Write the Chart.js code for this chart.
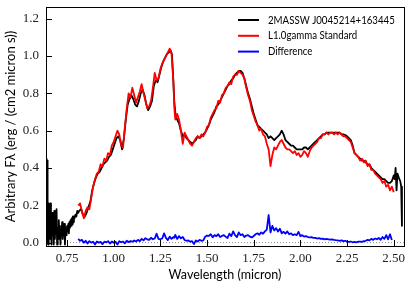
<!DOCTYPE html>
<html>
<head>
<meta charset="utf-8">
<script src="https://cdn.jsdelivr.net/npm/chart.js@4.4.1/dist/chart.umd.min.js"></script>
<style>
html,body{margin:0;padding:0;background:#fff;}
#wrap{width:411px;height:288px;}
</style>
</head>
<body>
<div id="wrap"><canvas id="c" width="411" height="288"></canvas></div>
<script>
// ---- data ----
const seriesNames = ['2MASSW J0045214+163445', 'L1.0gamma Standard', 'Difference'];

const targetWave = [0.638,0.640,0.643,0.646,0.649,0.652,0.655,0.658,0.661,0.664,0.667,0.670,0.673,0.676,0.679,0.682,0.685,0.688,0.691,0.694,0.697,0.700,0.703,0.706,0.709,0.712,0.715,0.718,0.721,0.724,0.727,0.730,0.733,0.736,0.739,0.742,0.745,0.748,0.751,0.754,0.757,0.760,0.763,0.766,0.769,0.772,0.775,0.778,0.781,0.784,0.787,0.790,0.795,0.800,0.805,0.810,
0.815,0.825,0.835,0.845,0.855,0.865,0.875,0.885,0.895,0.905,0.915,0.925,0.935,0.945,0.955,0.965,0.975,0.985,0.995,1.005,1.015,1.025,1.035,1.045,1.055,1.065,1.075,1.085,1.095,1.105,1.115,1.125,1.135,1.145,1.155,1.165,1.175,1.185,1.195,1.205,1.215,1.225,1.235,1.245,1.255,1.265,1.275,1.285,1.295,1.305,1.312,1.318,1.325,1.332,1.340,1.350,1.360,1.370,1.380,1.390,1.400,1.410,1.420,1.430,1.440,1.450,1.460,1.470,1.480,1.490,1.500,1.510,1.520,1.530,1.540,1.550,1.560,1.570,1.580,1.590,1.600,1.610,1.620,1.630,1.640,1.650,1.660,1.670,1.680,1.690,1.700,1.710,1.720,1.730,1.740,1.750,1.760,1.770,1.780,1.790,1.800,1.810,1.820,1.830,1.840,1.850,1.860,1.870,1.880,1.890,1.900,1.910,1.920,1.930,1.940,1.950,1.960,1.970,1.980,1.990,2.000,2.010,2.020,2.030,2.040,2.050,2.060,2.070,2.080,2.090,2.100,2.110,2.120,2.130,2.140,2.150,2.160,2.170,2.180,2.190,2.200,2.210,2.220,2.230,2.240,2.250,2.260,2.270,2.280,2.290,2.300,2.310,2.320,2.330,2.340,2.350,2.360,2.370,2.380,2.390,2.400,2.410,2.420,2.430,2.440,2.450,2.460,2.470,2.480,2.490,2.500,2.505,2.510,2.515,2.520,2.530,2.535,2.540,2.544];
const targetFlux = [0.00,0.45,0.44,0.05,-0.01,0.21,0.20,0.02,0.21,0.10,-0.01,0.16,0.04,0.12,-0.01,0.17,0.02,0.10,0.05,0.18,-0.01,0.08,0.02,0.12,0.04,0.09,-0.01,0.07,0.05,0.11,0.02,0.08,0.06,0.10,-0.01,0.07,0.08,0.04,0.09,0.06,0.10,0.05,0.11,0.08,0.12,0.09,0.13,0.10,0.14,0.11,0.14,0.13,0.15,0.14,0.17,0.16,
0.17,0.18,0.15,0.14,0.16,0.19,0.22,0.28,0.32,0.35,0.37,0.38,0.40,0.42,0.43,0.44,0.46,0.47,0.50,0.53,0.56,0.57,0.55,0.50,0.56,0.66,0.74,0.77,0.79,0.77,0.74,0.73,0.76,0.80,0.82,0.79,0.74,0.71,0.73,0.76,0.84,0.87,0.86,0.90,0.94,0.97,0.99,1.01,1.02,1.03,1.01,0.90,0.75,0.68,0.66,0.64,0.60,0.57,0.58,0.56,0.55,0.54,0.53,0.54,0.55,0.57,0.56,0.57,0.58,0.59,0.61,0.63,0.66,0.68,0.70,0.73,0.74,0.76,0.78,0.80,0.82,0.84,0.85,0.87,0.88,0.90,0.91,0.92,0.92,0.91,0.88,0.84,0.80,0.77,0.73,0.69,0.66,0.63,0.62,0.61,0.60,0.59,0.58,0.56,0.57,0.56,0.55,0.56,0.57,0.58,0.60,0.58,0.55,0.54,0.53,0.52,0.52,0.51,0.50,0.50,0.50,0.50,0.51,0.51,0.50,0.51,0.52,0.53,0.54,0.55,0.56,0.57,0.58,0.58,0.59,0.59,0.59,0.59,0.59,0.59,0.59,0.59,0.58,0.58,0.577,0.57,0.56,0.55,0.52,0.48,0.47,0.46,0.45,0.44,0.44,0.43,0.42,0.42,0.40,0.39,0.38,0.37,0.36,0.35,0.34,0.34,0.33,0.32,0.32,0.33,0.36,0.34,0.40,0.28,0.37,0.34,0.33,0.30,0.09];

const standardWave = [0.81,0.82,0.83,0.84,0.85,0.86,0.87,0.88,0.89,0.90,0.91,0.92,0.93,0.94,0.95,0.96,0.97,0.98,0.99,1.00,1.01,1.02,1.03,1.04,1.05,1.06,1.07,1.08,1.09,1.10,1.11,1.12,1.13,1.14,1.15,1.16,1.17,1.18,1.19,1.20,1.21,1.22,1.23,1.24,1.25,1.26,1.27,1.28,1.29,1.30,1.31,1.32,1.325,1.33,1.34,1.35,1.36,1.37,1.38,1.39,1.40,1.41,1.42,1.43,1.44,1.45,1.46,1.47,1.48,1.49,1.50,1.51,1.52,1.53,1.54,1.55,1.56,1.57,1.58,1.59,1.60,1.61,1.62,1.63,1.64,1.65,1.66,1.67,1.68,1.69,1.70,1.71,1.72,1.73,1.74,1.75,1.76,1.77,1.78,1.79,1.80,1.81,1.82,1.83,1.84,1.85,1.86,1.87,1.88,1.89,1.90,1.91,1.92,1.93,1.94,1.95,1.96,1.97,1.98,1.99,2.00,2.01,2.02,2.03,2.04,2.05,2.06,2.07,2.08,2.09,2.10,2.11,2.12,2.13,2.14,2.15,2.16,2.17,2.18,2.19,2.20,2.21,2.22,2.23,2.24,2.25,2.26,2.27,2.28,2.29,2.30,2.31,2.32,2.33,2.34,2.35,2.36,2.37,2.38,2.39,2.40,2.41,2.42,2.43,2.44,2.45,2.46,2.47,2.48,2.49,2.50];
const standardFlux = [0.20,0.21,0.17,0.13,0.17,0.19,0.18,0.24,0.30,0.34,0.37,0.38,0.42,0.41,0.45,0.44,0.48,0.47,0.52,0.54,0.57,0.60,0.58,0.52,0.51,0.62,0.72,0.80,0.78,0.83,0.79,0.75,0.78,0.81,0.85,0.80,0.76,0.72,0.73,0.76,0.83,0.91,0.87,0.88,0.93,0.96,0.98,1.00,1.02,1.04,1.01,0.86,0.72,0.66,0.69,0.66,0.60,0.53,0.59,0.57,0.55,0.53,0.52,0.54,0.56,0.57,0.56,0.58,0.57,0.59,0.62,0.63,0.67,0.69,0.71,0.72,0.76,0.75,0.79,0.80,0.83,0.84,0.86,0.85,0.89,0.90,0.90,0.92,0.91,0.90,0.88,0.83,0.79,0.76,0.71,0.68,0.65,0.63,0.60,0.61,0.58,0.57,0.53,0.50,0.41,0.47,0.51,0.50,0.52,0.54,0.55,0.53,0.51,0.50,0.50,0.49,0.48,0.49,0.47,0.48,0.46,0.47,0.49,0.48,0.46,0.49,0.51,0.52,0.53,0.54,0.56,0.56,0.58,0.58,0.59,0.58,0.59,0.59,0.58,0.59,0.58,0.59,0.58,0.57,0.57,0.56,0.55,0.54,0.51,0.48,0.47,0.46,0.44,0.45,0.43,0.44,0.41,0.42,0.39,0.39,0.37,0.36,0.35,0.34,0.32,0.33,0.30,0.31,0.28,0.30,0.27];

const diffWave = standardWave;
const diffFlux = [0.020,0.010,0.015,0.000,0.010,-0.005,0.008,0.000,0.005,-0.010,0.006,0.000,0.004,-0.008,0.005,0.002,0.008,-0.005,0.006,0.000,0.004,-0.010,0.008,0.002,0.006,-0.004,0.010,0.003,0.008,0.005,0.012,0.006,0.015,0.008,0.020,0.012,0.024,0.018,0.015,0.026,0.018,0.022,0.048,0.020,0.018,0.022,0.050,0.025,0.014,0.032,0.020,0.030,0.026,0.042,0.020,0.035,0.023,0.030,0.014,0.010,0.012,0.005,0.008,-0.008,0.012,0.006,0.015,0.010,0.012,0.032,0.038,0.036,0.045,0.028,0.040,0.035,0.045,0.030,0.036,0.040,0.032,0.025,0.048,0.035,0.060,0.040,0.030,0.055,0.040,0.045,0.030,0.038,0.040,0.032,0.028,0.035,0.045,0.050,0.042,0.055,0.048,0.060,0.070,0.148,0.055,0.090,0.065,0.078,0.060,0.075,0.050,0.058,0.048,0.060,0.045,0.050,0.040,0.045,0.040,0.058,0.035,0.040,0.032,0.035,0.030,0.028,0.030,0.025,0.026,0.022,0.024,0.020,0.021,0.018,0.020,0.018,0.016,0.018,0.015,0.013,0.012,0.010,0.012,0.008,0.010,0.006,0.004,0.006,0.002,0.004,0.002,0.005,0.006,0.004,0.008,0.010,0.015,0.012,0.020,0.015,0.022,0.018,0.025,0.015,0.030,0.020,0.040,0.018,0.045,0.014];

const xRange = [0.6375, 2.555];
const yRange = [-0.018, 1.263];
const xTickValues = [0.75, 1.00, 1.25, 1.50, 1.75, 2.00, 2.25, 2.50];
const yTickValues = [0.0, 0.2, 0.4, 0.6, 0.8, 1.0, 1.2];
const xTitle = 'Wavelength (micron)';
const yTitle = 'Arbitrary F\u03bb (erg / (cm2 micron s))';

function pts(xs, ys) { return xs.map((x, i) => ({x: x, y: ys[i]})); }

const framePlugin = {
  id: 'frame',
  afterDatasetsDraw(chart) {
    const {ctx, chartArea: a, scales} = chart;
    ctx.save();
    ctx.strokeStyle = '#000';
    ctx.lineWidth = 1;
    // inward ticks
    ctx.beginPath();
    scales.x.ticks.forEach(t => {
      const px = Math.round(scales.x.getPixelForValue(t.value)) + 0.5;
      ctx.moveTo(px, a.bottom); ctx.lineTo(px, a.bottom - 6);
    });
    scales.y.ticks.forEach(t => {
      const py = Math.round(scales.y.getPixelForValue(t.value)) + 0.5;
      ctx.moveTo(a.left, py); ctx.lineTo(a.left + 6, py);
    });
    ctx.stroke();
    ctx.strokeRect(Math.round(a.left) + 0.5, Math.round(a.top) + 0.5, Math.round(a.right - a.left), Math.round(a.bottom - a.top));
    // legend
    const sets = chart.data.datasets.slice(0, 3);
    ctx.font = '11px Lato';
    ctx.textBaseline = 'middle';
    ctx.textAlign = 'left';
    sets.forEach((ds, i) => {
      const y = a.top + 13 + i * 15.8;
      ctx.strokeStyle = ds.borderColor;
      ctx.lineWidth = 2;
      ctx.beginPath();
      ctx.moveTo(a.right - 166, y); ctx.lineTo(a.right - 145, y);
      ctx.stroke();
      ctx.fillStyle = '#000';
      ctx.save();
      ctx.translate(a.right - 136, y);
      ctx.scale(0.88, 1);
      ctx.fillText(ds.label, 0, 0);
      ctx.restore();
    });
    ctx.restore();
  }
};

new Chart(document.getElementById('c'), {
  type: 'line',
  data: {
    datasets: [
      {label: seriesNames[0], data: pts(targetWave, targetFlux), borderColor: '#000000', borderWidth: 1.8, order: 3},
      {label: seriesNames[1], data: pts(standardWave, standardFlux), borderColor: '#ff0000', borderWidth: 1.8, order: 2},
      {label: seriesNames[2], data: pts(diffWave, diffFlux), borderColor: '#0000ff', borderWidth: 1.8, order: 1},
      {label: 'zero', data: pts(xRange, [0, 0]), borderColor: '#888888', borderWidth: 1, borderDash: [1, 2], order: 4}
    ]
  },
  options: {
    responsive: false,
    animation: false,
    elements: {
      point: {radius: 0, hoverRadius: 0},
      line: {tension: 0, fill: false, borderJoinStyle: 'round'}
    },
    layout: {padding: {top: 7, right: 7, left: 0, bottom: 0}},
    plugins: {legend: {display: false}, tooltip: {enabled: false}},
    scales: {
      x: {
        type: 'linear', min: xRange[0], max: xRange[1],
        afterFit(s) { s.height = 42; s.paddingLeft = 0; s.paddingRight = 0; },
        afterBuildTicks(s) { s.ticks = xTickValues.map(v => ({value: v})); },
        grid: {display: false, drawTicks: false},
        border: {display: false},
        ticks: {padding: 5, color: '#222', font: {family: 'Liberation Serif', size: 13}, callback: v => Number(v).toFixed(2), maxRotation: 0},
        title: {display: true, text: xTitle, color: '#000', font: {family: 'Lato', size: 12.5}, padding: {top: 0, bottom: 6}}
      },
      y: {
        type: 'linear', min: yRange[0], max: yRange[1],
        afterFit(s) { s.width = 46; s.paddingTop = 0; s.paddingBottom = 0; },
        afterBuildTicks(s) { s.ticks = yTickValues.map(v => ({value: v})); },
        grid: {display: false, drawTicks: false},
        border: {display: false},
        ticks: {padding: 7, color: '#222', font: {family: 'Liberation Serif', size: 13}, callback: v => Number(v).toFixed(1)},
        title: {display: true, text: yTitle, color: '#000', font: {family: 'Lato', size: 13}, padding: {top: 3, bottom: 0}}
      }
    }
  },
  plugins: [framePlugin]
});
</script>
</body>
</html>
